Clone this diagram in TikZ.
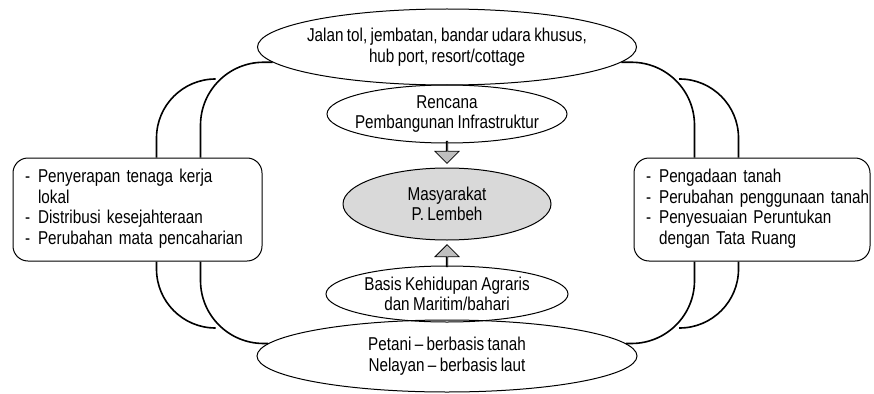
\documentclass[tikz,border=0pt]{standalone}
\usepackage{fontspec}
\setmainfont{Liberation Sans}[FakeStretch=0.82, WordSpace=0.8]
\usetikzlibrary{shapes.geometric,shapes.arrows,calc}
\tikzstyle{oval} = [ellipse, draw=black, line width=1pt, inner sep=-10pt, align=center, font=\fontsize{18.6}{20.5}\selectfont]
\tikzstyle{core} = [oval, fill=gray!30, minimum width=208pt, minimum height=72pt]
\tikzstyle{infobox} = [rectangle, rounded corners=15pt, draw=black, line width=1pt, minimum height=103pt, inner xsep=12pt, align=left, font=\fontsize{18.6}{20.5}\selectfont]
\tikzstyle{blockarrow} = [single arrow, draw=black, fill=gray!50, line width=0.8pt, inner sep=0pt, minimum height=22pt, minimum width=24pt, single arrow head extend=7pt]
\tikzstyle{link} = [line width=1.6pt]

\begin{document}
\begin{tikzpicture}[x=1pt, y=1pt, node distance=90pt]
      \useasboundingbox (0,0) rectangle (874,-393);
      \node (masy)[core] at (447,-204) {Masyarakat\\P. Lembeh};
      \node (infra)[oval, above of=masy, minimum width=240pt, minimum height=58pt]{Rencana\\Pembangunan Infrastruktur};
      \node (proj)[oval, above of=infra, yshift=-23pt, minimum width=379pt, minimum height=76pt]{Jalan tol, jembatan, bandar udara khusus,\\hub port, resort/cottage};
      \node (basis)[oval, below of=masy, minimum width=242pt, minimum height=56pt]{Basis Kehidupan Agraris\\dan Maritim/bahari};
      \node (bot)[oval, below of=basis, yshift=28pt, minimum width=380pt, minimum height=72pt]{Petani -- berbasis tanah\\Nelayan -- berbasis laut};
      \node (lbox)[infobox, left of=masy, xshift=-219.5pt, yshift=-5.5pt, text width=225pt]{%
        \begin{tabular}{@{}l@{\hspace{8pt}}l@{}}
          - & Penyerapan tenaga kerja\\
            & lokal\\
          - & Distribusi kesejahteraan\\
          - & Perubahan mata pencaharian
        \end{tabular}};
      \node (rbox)[infobox, right of=masy, xshift=215pt, yshift=-5.5pt, text width=212pt]{%
        \begin{tabular}{@{}l@{\hspace{8pt}}l@{}}
          - & Pengadaan tanah\\
          - & Perubahan penggunaan tanah\\
          - & Penyesuaian Peruntukan\\
            & dengan Tata Ruang
        \end{tabular}};
      \node (arrdown)[blockarrow, below of=infra, node distance=38pt, shape border rotate=270]{};
      \node (arrup)[blockarrow, above of=basis, node distance=38pt, shape border rotate=90]{};
      % free ends of the inner arcs
      \coordinate (tl) at (215,-79);
      \coordinate (bl) at (215,-328);
      \coordinate (tr) at (679,-79);
      \coordinate (br) at (679,-328);
      % left side
      \draw [link, rounded corners=63pt](proj.185) -| ([xshift=-62pt]lbox.north east);
      \draw [link, rounded corners=59pt](tl) -| ([xshift=-106pt]lbox.north east);
      \draw [link, rounded corners=63pt]([xshift=-62pt]lbox.south east) |- (bot.176);
      \draw [link, rounded corners=59pt]([xshift=-106pt]lbox.south east) |- (bl);
      % right side
      \draw [link, rounded corners=63pt](proj.355) -| ([xshift=61pt]rbox.north west);
      \draw [link, rounded corners=59pt](tr) -| ([xshift=105pt]rbox.north west);
      \draw [link, rounded corners=63pt]([xshift=61pt]rbox.south west) |- (bot.4);
      \draw [link, rounded corners=59pt]([xshift=105pt]rbox.south west) |- (br);
    \end{tikzpicture}
\end{document}
